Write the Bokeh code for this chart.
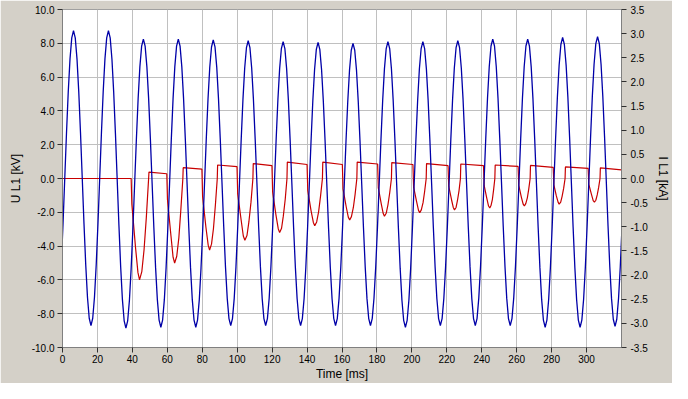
from bokeh.plotting import figure
from bokeh.models import Range1d, LinearAxis, FixedTicker, PrintfTickFormatter, ColumnDataSource
from bokeh.embed import file_html
from bokeh.resources import INLINE

# ---------------- data ----------------
# Voltage U L1 [kV], sampled every 1 ms starting at t = -0.7 ms (one half-cycle per row)
volt_kv = [
    -5.10, -2.67, 0.03, 2.72, 5.15, 7.08, 8.32,
    8.75, 8.32, 7.08, 5.15, 2.72, 0.03, -2.67, -5.10, -7.03, -8.27,
    -8.70, -8.27, -7.03, -5.10, -2.67, 0.03, 2.72, 5.15, 7.08, 8.32,
    8.75, 8.32, 7.07, 5.12, 2.67, -0.05, -2.77, -5.22, -7.17, -8.42,
    -8.85, -8.43, -7.22, -5.33, -2.94, -0.30, 2.34, 4.73, 6.62, 7.83,
    8.25, 7.83, 6.62, 4.74, 2.36, -0.28, -2.91, -5.29, -7.17, -8.38,
    -8.80, -8.38, -7.17, -5.29, -2.91, -0.28, 2.36, 4.74, 6.62, 7.83,
    8.25, 7.83, 6.62, 4.74, 2.36, -0.28, -2.91, -5.29, -7.17, -8.38,
    -8.80, -8.38, -7.18, -5.30, -2.93, -0.30, 2.33, 4.70, 6.58, 7.78,
    8.20, 7.79, 6.59, 4.72, 2.36, -0.25, -2.86, -5.22, -7.09, -8.29,
    -8.70, -8.29, -7.09, -5.23, -2.88, -0.28, 2.33, 4.68, 6.54, 7.74,
    8.15, 7.74, 6.54, 4.68, 2.33, -0.28, -2.88, -5.23, -7.09, -8.29,
    -8.70, -8.29, -7.10, -5.24, -2.90, -0.30, 2.30, 4.64, 6.50, 7.69,
    8.10, 7.69, 6.50, 4.64, 2.30, -0.30, -2.90, -5.24, -7.10, -8.29,
    -8.70, -8.29, -7.10, -5.25, -2.91, -0.33, 2.26, 4.60, 6.45, 7.64,
    8.05, 7.64, 6.45, 4.60, 2.26, -0.33, -2.91, -5.25, -7.10, -8.29,
    -8.70, -8.29, -7.11, -5.26, -2.93, -0.35, 2.23, 4.56, 6.41, 7.59,
    8.00, 7.59, 6.41, 4.56, 2.23, -0.35, -2.93, -5.26, -7.11, -8.29,
    -8.70, -8.29, -7.10, -5.24, -2.90, -0.30, 2.30, 4.64, 6.50, 7.69,
    8.10, 7.69, 6.49, 4.62, 2.26, -0.35, -2.96, -5.32, -7.19, -8.39,
    -8.80, -8.39, -7.19, -5.32, -2.96, -0.35, 2.26, 4.62, 6.49, 7.69,
    8.10, 7.69, 6.50, 4.64, 2.30, -0.30, -2.90, -5.24, -7.10, -8.29,
    -8.70, -8.29, -7.09, -5.23, -2.88, -0.28, 2.33, 4.68, 6.54, 7.74,
    8.15, 7.74, 6.54, 4.68, 2.33, -0.28, -2.88, -5.23, -7.09, -8.29,
    -8.70, -8.29, -7.08, -5.21, -2.84, -0.23, 2.39, 4.76, 6.63, 7.84,
    8.25, 7.84, 6.63, 4.76, 2.39, -0.23, -2.84, -5.21, -7.08, -8.29,
    -8.70, -8.29, -7.08, -5.21, -2.84, -0.23, 2.39, 4.76, 6.63, 7.84,
    8.25, 7.83, 6.62, 4.74, 2.36, -0.28, -2.91, -5.29, -7.17, -8.38,
    -8.80, -8.38, -7.16, -5.27, -2.88, -0.23, 2.43, 4.82, 6.71, 7.93,
    8.35, 7.93, 6.71, 4.82, 2.43, -0.23, -2.88, -5.27, -7.16, -8.38,
    -8.80, -8.38, -7.16, -5.26, -2.86, -0.20, 2.46, 4.86, 6.76, 7.98,
    8.40, 7.98, 6.76, 4.87, 2.48, -0.18, -2.83, -5.22, -7.11, -8.33,
    -8.75, -8.33, -7.11, -5.22, -2.83,
]
volt_t0 = -0.7   # ms, time of first voltage sample
volt_dt = 1.0    # ms, sampling step
volt_t = [round(volt_t0 + k * volt_dt, 1) for k in range(len(volt_kv))]

# Current I L1 [kA]: break points of the trace (one pulse per row)
current_t = [
    0.0,
    39.3, 39.7, 41.8, 43.2, 44.1, 45.4, 46.7, 48.0, 49.3, 49.5,
    59.7, 60.1, 62.1, 63.3, 64.2, 65.4, 66.6, 67.7, 68.9, 69.1,
    79.8, 80.2, 82.1, 83.4, 84.2, 85.3, 86.4, 87.5, 88.6, 88.8,
    99.9, 100.3, 102.3, 103.5, 104.4, 105.6, 106.7, 107.9, 109.0, 109.2,
    119.9, 120.3, 122.2, 123.5, 124.3, 125.4, 126.4, 127.5, 128.5, 128.7,
    140.0, 140.4, 142.3, 143.6, 144.4, 145.5, 146.6, 147.7, 148.8, 149.0,
    160.2, 160.6, 162.4, 163.6, 164.4, 165.4, 166.5, 167.5, 168.5, 168.7,
    180.4, 180.8, 182.5, 183.6, 184.3, 185.3, 186.3, 187.3, 188.3, 188.5,
    200.6, 201.0, 202.7, 203.8, 204.5, 205.4, 206.4, 207.3, 208.2, 208.4,
    220.7, 221.1, 222.7, 223.7, 224.4, 225.3, 226.1, 227.0, 227.8, 228.0,
    241.0, 241.4, 242.9, 243.9, 244.6, 245.3, 246.1, 246.8, 247.5, 247.7,
    260.8, 261.2, 262.7, 263.7, 264.4, 265.2, 266.1, 266.9, 267.7, 267.9,
    280.9, 281.3, 282.7, 283.7, 284.3, 285.2, 286.0, 286.9, 287.7, 287.9,
    300.9, 301.3, 302.8, 303.8, 304.5, 305.3, 306.1, 306.9, 307.7, 307.9,
    320.0,
]
current_ka = [
    0.0,
    0.0, -0.53, -1.43, -1.95, -2.10, -1.93, -1.47, -0.80, 0.0, 0.133,
    0.098, -0.44, -1.19, -1.63, -1.75, -1.61, -1.23, -0.67, 0.0, 0.224,
    0.193, -0.37, -1.01, -1.38, -1.48, -1.36, -1.04, -0.56, 0.0, 0.28,
    0.245, -0.32, -0.87, -1.19, -1.28, -1.18, -0.90, -0.49, 0.0, 0.31,
    0.266, -0.28, -0.76, -1.04, -1.12, -1.03, -0.78, -0.43, 0.0, 0.34,
    0.29, -0.245, -0.67, -0.91, -0.98, -0.90, -0.69, -0.37, 0.0, 0.34,
    0.29, -0.215, -0.585, -0.80, -0.86, -0.79, -0.60, -0.33, 0.0, 0.34,
    0.30, -0.195, -0.53, -0.725, -0.78, -0.72, -0.546, -0.30, 0.0, 0.33,
    0.29, -0.18, -0.48, -0.66, -0.71, -0.65, -0.50, -0.27, 0.0, 0.31,
    0.266, -0.16, -0.44, -0.60, -0.65, -0.60, -0.455, -0.25, 0.0, 0.30,
    0.266, -0.15, -0.41, -0.57, -0.61, -0.56, -0.43, -0.23, 0.0, 0.28,
    0.25, -0.14, -0.39, -0.53, -0.57, -0.52, -0.40, -0.22, 0.0, 0.27,
    0.23, -0.13, -0.36, -0.49, -0.53, -0.49, -0.37, -0.20, 0.0, 0.24,
    0.21, -0.12, -0.33, -0.46, -0.49, -0.45, -0.34, -0.19, 0.0, 0.22,
    0.18,
]

x_ticks = [0, 20, 40, 60, 80, 100, 120, 140, 160, 180, 200, 220, 240, 260, 280, 300]
kv_ticks = [-10, -8, -6, -4, -2, 0, 2, 4, 6, 8, 10]
ka_ticks = [-3.5, -3.0, -2.5, -2.0, -1.5, -1.0, -0.5, 0.0, 0.5, 1.0, 1.5, 2.0, 2.5, 3.0, 3.5]

# ---------------- styling ----------------
BG = "#d4d0c8"
FONT = "Liberation Sans"
BLUE = "#0000a8"
RED = "#c80000"

p = figure(width=672, height=383, output_backend="svg", toolbar_location=None,
           x_range=Range1d(0, 320), y_range=Range1d(-10, 10),
           min_border_left=62, min_border_right=51, min_border_top=9, min_border_bottom=32,
           background_fill_color="white", border_fill_color=BG,
           outline_line_color="#a0a0a0")
p.extra_y_ranges = {"ka": Range1d(-3.5, 3.5)}

def style_axis(ax):
    ax.axis_line_color = "#808080"
    ax.major_tick_line_color = "#303030"
    ax.major_tick_out = 5
    ax.major_tick_in = 0
    ax.minor_tick_line_color = None
    ax.major_label_text_font = FONT
    ax.major_label_text_font_size = "10px"
    ax.major_label_text_color = "#000000"
    ax.axis_label_text_font = FONT
    ax.axis_label_text_font_size = "12px"
    ax.axis_label_text_font_style = "normal"
    ax.axis_label_text_color = "#000000"

xa = p.xaxis[0]
xa.ticker = FixedTicker(ticks=x_ticks)
xa.axis_label = "Time [ms]"
style_axis(xa)
xa.major_label_standoff = 2
xa.axis_label_standoff = 1
xa.major_label_text_line_height = 1.0
xa.axis_label_text_line_height = 1.0

ya = p.yaxis[0]
ya.ticker = FixedTicker(ticks=kv_ticks)
ya.formatter = PrintfTickFormatter(format="%.1f")
ya.axis_label = "U L1 [kV]"
style_axis(ya)
ya.major_label_standoff = 3
ya.axis_label_standoff = 6

ra = LinearAxis(y_range_name="ka", ticker=FixedTicker(ticks=ka_ticks),
                formatter=PrintfTickFormatter(format="%.1f"), axis_label="I L1 [kA]")
style_axis(ra)
ra.major_label_standoff = 4
ra.axis_label_standoff = 5
p.add_layout(ra, "right")

p.xgrid.ticker = FixedTicker(ticks=x_ticks)
p.ygrid.ticker = FixedTicker(ticks=kv_ticks)
for g in (p.xgrid[0], p.ygrid[0]):
    g.grid_line_color = "#c0c0c0"
    g.grid_line_width = 1

src_u = ColumnDataSource(dict(t=volt_t, u=volt_kv))
src_i = ColumnDataSource(dict(t=current_t, i=current_ka))

p.line("t", "i", source=src_i, y_range_name="ka", line_color=RED, line_width=1.2)
p.line("t", "u", source=src_u, line_color=BLUE, line_width=1.3)

open("out.html", "w").write(file_html(p, INLINE))
